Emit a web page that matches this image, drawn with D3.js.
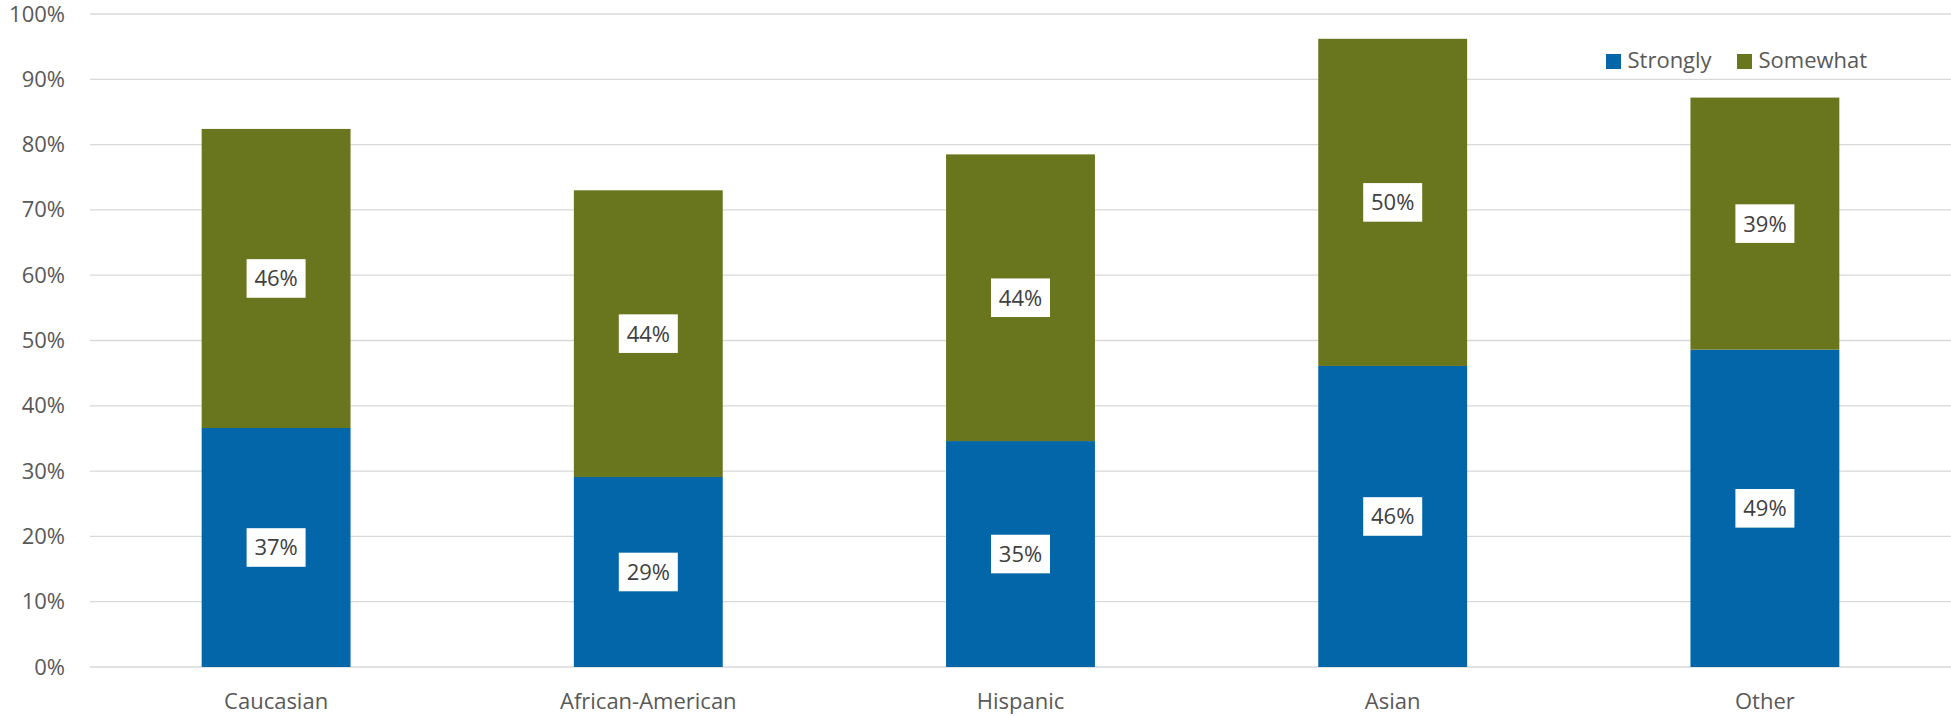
<!DOCTYPE html>
<html>
<head>
<meta charset="utf-8">
<script src="https://cdn.jsdelivr.net/npm/d3@7"></script>
<style>
  html, body { margin: 0; padding: 0; background: #fff; }
  svg { display: block; font-family: "Open Sans", "Noto Sans", sans-serif; }
</style>
</head>
<body>
<svg id="chart" width="1951" height="716"></svg>
<script>
const categories = ["Caucasian", "African-American", "Hispanic", "Asian", "Other"];
const seriesNames = ["Strongly", "Somewhat"];
const strongly = [36.6, 29.1, 34.6, 46.1, 48.6];
const somewhat = [45.8, 43.9, 43.9, 50.1, 38.6];
const yTicks = [0, 10, 20, 30, 40, 50, 60, 70, 80, 90, 100];
const colors = ["#0366a9", "#69761d"];

const W = 1951, H = 716;
const margin = { left: 90, right: 0, top: 14, bottom: 49 };
const svg = d3.select("#chart");

const x = d3.scaleBand().domain(categories).range([margin.left, W - margin.right]).paddingInner(0.6).paddingOuter(0.3);
const y = d3.scaleLinear().domain([0, 100]).range([H - margin.bottom, margin.top]);

// gridlines
svg.append("g").selectAll("line").data(yTicks).join("line")
  .attr("x1", margin.left).attr("x2", W - margin.right)
  .attr("y1", d => y(d)).attr("y2", d => y(d))
  .attr("stroke", "#d9d9d9").attr("stroke-width", 1.3);

// y axis labels
const yAxis = d3.axisLeft(y).tickValues(yTicks).tickFormat(d => d + "%").tickSize(0).tickPadding(0);
const yg = svg.append("g").attr("transform", `translate(65,0)`).call(yAxis);
yg.select(".domain").remove();
yg.selectAll("text").attr("fill", "#595959").style("font-size", "22px").style("font-family", "'Open Sans', sans-serif");

// stacked data
const rows = categories.map((c, i) => ({ cat: c, Strongly: strongly[i], Somewhat: somewhat[i] }));
const stack = d3.stack().keys(seriesNames)(rows);

const layers = svg.append("g").selectAll("g").data(stack).join("g")
  .attr("fill", (d, i) => colors[i]);
layers.selectAll("rect").data(d => d).join("rect")
  .attr("x", d => x(d.data.cat))
  .attr("width", x.bandwidth())
  .attr("y", d => y(d[1]))
  .attr("height", d => y(d[0]) - y(d[1]));

// x axis labels
const xAxis = d3.axisBottom(x).tickSize(0).tickPadding(0);
const xg = svg.append("g").attr("transform", `translate(0,${y(0)})`).call(xAxis);
xg.select(".domain").remove();
xg.selectAll("text").attr("fill", "#595959").attr("dy", null).attr("y", 42)
  .style("font-size", "22px").style("font-family", "'Open Sans', sans-serif");

// data labels
const labelG = svg.append("g");
stack.forEach((layer) => {
  layer.forEach(d => {
    const cx = x(d.data.cat) + x.bandwidth() / 2;
    const cy = (y(d[0]) + y(d[1])) / 2;
    const txt = Math.round(d[1] - d[0]) + "%";
    const g = labelG.append("g").attr("transform", `translate(${cx},${cy})`);
    const t = g.append("text").attr("text-anchor", "middle").attr("dy", "0.36em")
      .attr("fill", "#404040").style("font-size", "22px").text(txt);
    const bb = t.node().getBBox();
    g.insert("rect", "text").attr("x", -29.5).attr("y", -19.3).attr("width", 59).attr("height", 38.6).attr("fill", "#fff");
  });
});

// legend
const legend = svg.append("g");
const legendItems = [{ name: seriesNames[0], x: 1606 }, { name: seriesNames[1], x: 1737 }];
legendItems.forEach((it, i) => {
  legend.append("rect").attr("x", it.x).attr("y", 54).attr("width", 15).attr("height", 15).attr("fill", colors[i]);
  legend.append("text").attr("x", it.x + 21.5).attr("y", 68).attr("fill", "#595959")
    .style("font-size", "22px").text(it.name);
});
</script>
</body>
</html>
